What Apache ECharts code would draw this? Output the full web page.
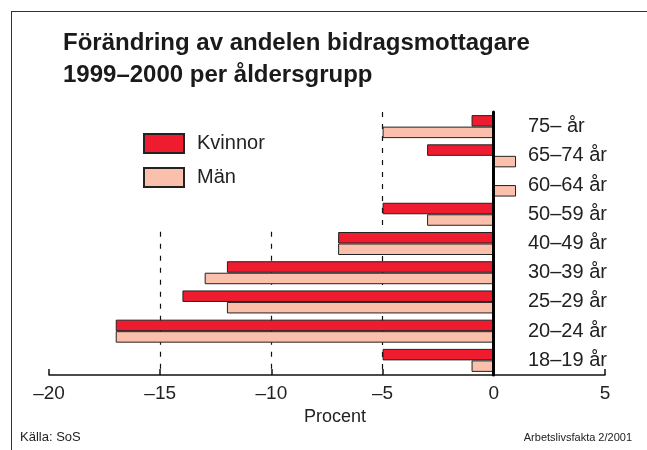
<!DOCTYPE html>
<html>
<head>
<meta charset="utf-8">
<script src="https://cdn.jsdelivr.net/npm/echarts@6/dist/echarts.min.js"></script>
<style>
  html, body { margin: 0; padding: 0; background: #fff; }
  #wrap { position: relative; width: 647px; height: 450px; overflow: hidden; }
  #frame {
    position: absolute; left: 11px; top: 11px; right: -5px; bottom: -5px;
    border-left: 1.5px solid #333; border-top: 1.5px solid #333;
  }
  #chart { position: absolute; left: 0; top: 0; width: 647px; height: 450px; }
</style>
</head>
<body>
<div id="wrap">
  <div id="frame"></div>
  <div id="chart"></div>
</div>
<script>
// åldersgrupper, uppifrån och ned
var categories = ['75– år', '65–74 år', '60–64 år', '50–59 år', '40–49 år', '30–39 år', '25–29 år', '20–24 år', '18–19 år'];
// förändring i procent
var kvinnor = [-1, -3, 0, -5, -7, -12, -14, -17, -5];
var man = [-5, 1, 1, -3, -7, -13, -12, -17, -1];
var xTicks = [-20, -15, -10, -5, 0, 5];
// streckade hjälplinjer
var dashFull = [-5];
var dashLower = [-10, -15];
var dashLowerFrom = '40–49 år';

var font = "'Liberation Sans', Arial, sans-serif";
var chart = echarts.init(document.getElementById('chart'));

// hjälpaxel 0..antal kategorier, så att linjerna kan börja på gränsen mellan två grupper
var fromPos = categories.indexOf(dashLowerFrom) + 0.1;
var toPos = categories.length;
var markData = [];
dashFull.forEach(function (v) {
  markData.push([{ coord: [v, 0] }, { coord: [v, toPos] }]);
});
dashLower.forEach(function (v) {
  markData.push([{ coord: [v, fromPos] }, { coord: [v, toPos] }]);
});

chart.setOption({
  animation: false,
  textStyle: { fontFamily: font },
  title: [
    {
      text: 'Förändring av andelen bidragsmottagare\n1999–2000 per åldersgrupp',
      left: 63,
      top: 27,
      padding: 0,
      textStyle: { fontSize: 24, fontWeight: 'bold', lineHeight: 32, color: '#1a1a1a', fontFamily: font }
    },
    {
      text: 'Källa: SoS',
      left: 20,
      top: 431,
      padding: 0,
      textStyle: { fontSize: 13, fontWeight: 'normal', color: '#222', fontFamily: font }
    },
    {
      text: 'Arbetslivsfakta 2/2001',
      right: 15,
      top: 432,
      padding: 0,
      textStyle: { fontSize: 11, fontWeight: 'normal', color: '#222', fontFamily: font }
    }
  ],
  legend: {
    orient: 'vertical',
    left: 143,
    top: 133,
    padding: 0,
    itemWidth: 40,
    itemHeight: 19,
    itemGap: 13,
    icon: 'rect',
    data: ['Kvinnor', 'Män'],
    textStyle: { fontSize: 20, color: '#222', fontFamily: font, padding: [0, 0, 0, 8] }
  },
  grid: {
    left: 49,
    right: 42,
    top: 112,
    bottom: 75,
    containLabel: false
  },
  xAxis: {
    type: 'value',
    min: xTicks[0],
    max: xTicks[xTicks.length - 1],
    interval: 5,
    name: 'Procent',
    nameLocation: 'middle',
    nameGap: 23,
    nameTextStyle: { fontSize: 18, color: '#222', fontFamily: font, padding: [0, 0, 0, 16] },
    axisLine: { show: true, onZero: false, lineStyle: { color: '#111', width: 1.5 } },
    axisTick: { show: true, inside: true, length: 6, lineStyle: { color: '#111', width: 1.5 } },
    splitLine: { show: false },
    axisLabel: {
      fontSize: 19,
      color: '#222',
      margin: 9,
      fontFamily: font,
      formatter: function (v) { return String(v).replace('-', '–'); }
    }
  },
  yAxis: [
    {
      type: 'category',
      inverse: true,
      data: categories,
      position: 'right',
      offset: -112,
      z: 3,
      axisLine: { onZero: false, lineStyle: { color: '#000', width: 3 } },
      axisTick: { show: false },
      axisLabel: {
        margin: 35,
        align: 'left',
        fontSize: 20,
        color: '#222',
        fontFamily: font
      }
    },
    {
      type: 'value',
      show: false,
      inverse: true,
      min: 0,
      max: categories.length
    }
  ],
  series: [
    {
      name: 'Kvinnor',
      type: 'bar',
      data: kvinnor,
      barWidth: 11.5,
      barGap: '0%',
      z: 2,
      itemStyle: { color: '#ee1c2e', borderColor: '#222', borderWidth: 1 }
    },
    {
      name: 'Män',
      type: 'bar',
      data: man,
      barWidth: 11.5,
      barGap: '0%',
      z: 2,
      itemStyle: { color: '#fac0ab', borderColor: '#222', borderWidth: 1 }
    },
    {
      name: 'hjälplinjer',
      type: 'line',
      yAxisIndex: 1,
      data: [],
      silent: true,
      z: 1,
      markLine: {
        silent: true,
        z: 1,
        symbol: 'none',
        label: { show: false },
        lineStyle: { type: [5, 7], color: '#111', width: 1.2 },
        data: markData
      }
    }
  ]
});
</script>
</body>
</html>
